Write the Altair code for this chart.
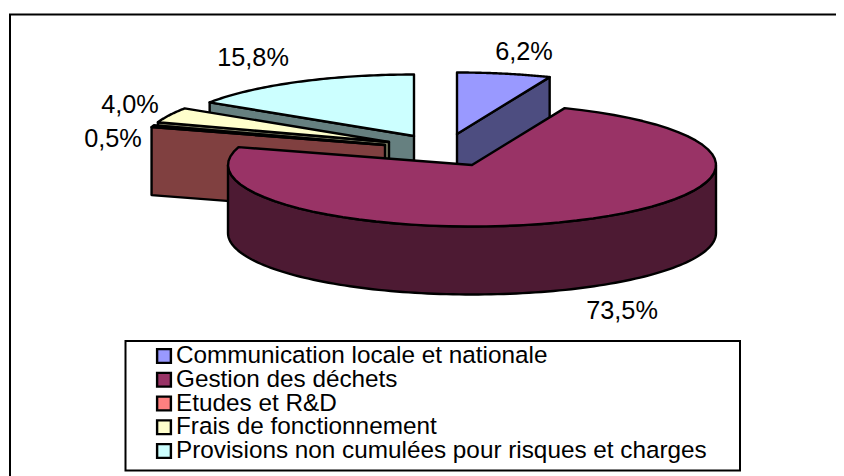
import math
import altair as alt
import pandas as pd

categories = ["Communication locale et nationale", "Gestion des déchets", "Etudes et R&D",
              "Frais de fonctionnement", "Provisions non cumulées pour risques et charges"]
shares = [6.2, 73.5, 0.5, 4.0, 15.8]
share_labels = ["6,2%", "73,5%", "0,5%", "4,0%", "15,8%"]
top_colors = ["#9999ff", "#993366", "#ff8080", "#ffffcc", "#ccffff"]
side_colors = ["#4d4d80", "#4d1a33", "#804040", "#808066", "#668080"]
apex_x = [457, 472, 385, 389, 414]
apex_y = [134, 165, 145, 142, 136]
label_x = [524, 622, 113, 130, 253]
label_y = [52, 311, 139, 105, 58]
RX, RY, DEPTH = 244, 61.5, 68
LINE = 2.4


def pt(i, deg):
    a = math.radians(deg)
    return apex_x[i] + RX * math.sin(a), apex_y[i] - RY * math.cos(a)


def arc(i, a0, a1, n=60):
    return [pt(i, a0 + (a1 - a0) * k / n) for k in range(n + 1)]


starts = [sum(shares[:k]) * 3.6 for k in range(5)]
ends = [sum(shares[:k + 1]) * 3.6 for k in range(5)]

WIDTH, HEIGHT = 828, 468
x_scale = alt.Scale(domain=[8, 8 + WIDTH], nice=False, zero=False)
y_scale = alt.Scale(domain=[8 + HEIGHT, 8], nice=False, zero=False)
fill_scale = alt.Scale(domain=categories, range=top_colors)
X = alt.X("x:Q", scale=x_scale, axis=None)
Y = alt.Y("y:Q", scale=y_scale, axis=None)


def base(rows):
    return alt.Chart(pd.DataFrame(rows)).encode(x=X, y=Y, order="o:Q")


def poly(points, color):
    rows = [{"x": p[0], "y": p[1], "o": k} for k, p in enumerate(points + points[:1])]
    return base(rows).mark_line(fill=color, stroke="black", strokeWidth=LINE, strokeJoin="round", strokeCap="round")


def top(i):
    points = [(apex_x[i], apex_y[i])] + arc(i, starts[i], ends[i])
    rows = [{"x": p[0], "y": p[1], "o": k, "cat": categories[i]} for k, p in enumerate(points + points[:1])]
    return base(rows).mark_line(stroke="black", strokeWidth=LINE, strokeJoin="round", strokeCap="round").encode(
        fill=alt.Fill("cat:N", scale=fill_scale, legend=None)
    )


def edge_face(i, deg):
    p = pt(i, deg)
    a = (apex_x[i], apex_y[i])
    return poly([p, a, (a[0], a[1] + DEPTH), (p[0], p[1] + DEPTH)], side_colors[i])


main_outer = arc(1, 90, 270, 120)
main_side = poly(main_outer + [(x, y + DEPTH) for x, y in reversed(main_outer)], side_colors[1])


def box(x0, x1, y0, y1):
    return alt.Chart(pd.DataFrame({"x": [x0], "x2": [x1], "y": [y0], "y2": [y1]})).mark_rect(
        fill="white", stroke="black", strokeWidth=2
    ).encode(x=X, x2="x2:Q", y=Y, y2="y2:Q")


frame = box(10, 860, 14.5, 495)
legend_box = box(125.5, 740, 341, 470.5)

labels = alt.Chart(pd.DataFrame({"x": label_x, "y": label_y, "t": share_labels})).mark_text(
    font="Liberation Sans", fontSize=25.3, color="black", align="center", baseline="middle"
).encode(x=X, y=Y, text="t:N")

legend_rows = pd.DataFrame({"cat": categories, "y": [356 + 23.75 * k for k in range(5)]})
legend_keys = alt.Chart(legend_rows.assign(x=164)).mark_square(
    size=190, stroke="black", strokeWidth=2.4, opacity=1, filled=True
).encode(x=X, y=Y, fill=alt.Fill("cat:N", scale=fill_scale, legend=None))
legend_text = alt.Chart(legend_rows.assign(x=176)).mark_text(
    font="Liberation Sans", fontSize=24.3, color="black", align="left", baseline="middle"
).encode(x=X, y=Y, text="cat:N")

layers = [
    frame, legend_box,
    edge_face(4, starts[4]), top(4),
    edge_face(3, starts[3]), top(3),
    edge_face(2, starts[2]), top(2),
    edge_face(0, ends[0]), top(0),
    main_side, top(1),
    labels, legend_keys, legend_text,
]

chart = alt.layer(*layers).properties(
    width=WIDTH, height=HEIGHT, padding=0, autosize=alt.AutoSizeParams(type="none")
).configure_view(stroke=None)

chart.save("out.html", embed_options={"renderer": "svg", "actions": False})
